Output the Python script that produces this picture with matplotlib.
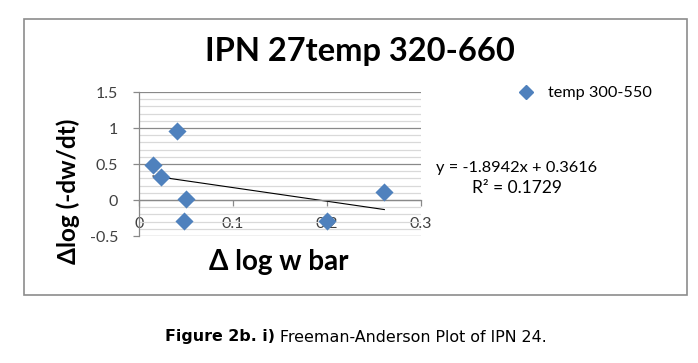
import numpy as np
import matplotlib
matplotlib.use("Agg")
import matplotlib.pyplot as plt
from matplotlib.patches import Rectangle
from matplotlib.ticker import MultipleLocator, FuncFormatter
from matplotlib.lines import Line2D

# data
dlog_w = [0.0409, 0.0149, 0.0238, 0.0505, 0.0476, 0.1998, 0.2610]
dlog_rate = [0.953, 0.481, 0.316, 0.014, -0.292, -0.292, 0.118]
slope = -1.8942
intercept = 0.3616
r2 = 0.1729

series_name = "temp 300-550"
title = "IPN 27temp 320-660"
x_ticks = [0, 0.1, 0.2, 0.3]
y_ticks = [-0.5, 0, 0.5, 1, 1.5]

blue = "#4F81BD"
grid_major = "#898989"
grid_minor = "#D9D9D9"

W, H = 698, 363
fig = plt.figure(figsize=(W / 100, H / 100), dpi=100)

def fx(px):
    return px / W

def fy(py):
    return 1 - py / H

# chart frame
frame = Rectangle((fx(24), fy(295)), fx(687) - fx(24), fy(19) - fy(295),
                  transform=fig.transFigure, fill=False, edgecolor="#8C8C8C", lw=1.2)
fig.patches.append(frame)

ax = fig.add_axes([fx(139), fy(236), fx(421) - fx(139), fy(92) - fy(236)])

ax.set_xlim(0, 0.3)
ax.set_ylim(-0.5, 1.5)

ax.yaxis.set_major_locator(MultipleLocator(0.5))
ax.yaxis.set_minor_locator(MultipleLocator(0.1))
ax.set_xticks(x_ticks)
ax.set_yticks(y_ticks)
fmt = FuncFormatter(lambda v, p: "%g" % round(v, 3))
ax.xaxis.set_major_formatter(fmt)
ax.yaxis.set_major_formatter(fmt)

ax.grid(which="major", axis="y", color=grid_major, lw=0.9, zorder=0)
ax.grid(which="minor", axis="y", color=grid_minor, lw=0.9, zorder=0)

for s in ["top", "right"]:
    ax.spines[s].set_visible(False)
ax.spines["bottom"].set_position(("data", 0))
ax.spines["bottom"].set_color(grid_major)
ax.spines["left"].set_color(grid_major)
ax.spines["bottom"].set_linewidth(0.9)
ax.spines["left"].set_linewidth(0.9)

ax.tick_params(axis="y", which="major", direction="out", length=4, width=0.9,
               color=grid_major, labelsize=11.5, pad=11)
ax.tick_params(axis="y", which="minor", length=0)
ax.tick_params(axis="x", which="major", direction="out", length=4, width=0.9,
               color=grid_major, labelsize=11.5, pad=8.5)
for lab in ax.get_xticklabels() + ax.get_yticklabels():
    lab.set_fontfamily("Lato")
    lab.set_color("#404040")

# points
ax.scatter(dlog_w, dlog_rate, marker="D", s=85, color=blue, zorder=3, linewidths=0)

# linear trendline over data range
xs = np.array([min(dlog_w), max(dlog_w)])
ax.plot(xs, slope * xs + intercept, color="black", lw=0.8, zorder=2)

# texts
fig.text(fx(360), fy(51), title, ha="center", va="center", fontsize=23.5,
         fontweight="bold", family="Lato")
fig.text(fx(68), fy(191), "\u0394log (-dw/dt)", ha="center", va="center",
         rotation=90, fontsize=17.5, fontweight="bold", family="Lato")
fig.text(fx(279), fy(262), "\u0394 log w bar", ha="center", va="center",
         fontsize=20, fontweight="bold", family="Lato")

fig.text(fx(517), fy(168), "y = %.4fx + %.4f" % (slope, intercept), ha="center",
         va="center", fontsize=11.8, family="Lato")
fig.text(fx(517), fy(188), "R\u00b2 = %.4f" % r2, ha="center", va="center",
         fontsize=12.5, family="Lato")

handle = Line2D([], [], marker="D", color=blue, lw=0, markersize=7.5)
fig.legend([handle], [series_name], loc="center left",
           bbox_to_anchor=(fx(502), fy(93)), frameon=False, handlelength=1.2,
           handletextpad=0.7, prop={"family": "Lato", "size": 11.7})

cap = fig.text(fx(165), fy(337), "Figure 2b. i) ", ha="left", va="center",
               fontsize=11.4, fontweight="bold", family="DejaVu Sans")
fig.canvas.draw()
bb = cap.get_window_extent()
fig.text(bb.x1 / W, fy(337), "Freeman-Anderson Plot of IPN 24.", ha="left",
         va="center", fontsize=11.4, family="DejaVu Sans")

fig.savefig("out.png", dpi=100)
